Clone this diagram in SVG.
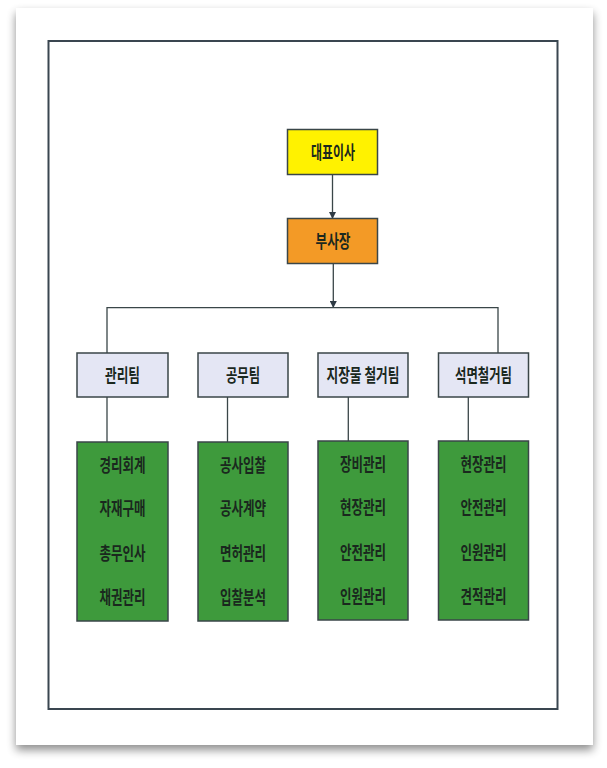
<svg xmlns="http://www.w3.org/2000/svg" width="607" height="768" viewBox="0 0 607 768">
<defs>
<filter id="sh" x="-10%" y="-10%" width="120%" height="120%">
<feGaussianBlur in="SourceAlpha" stdDeviation="5"/>
<feOffset dx="0" dy="5" result="b"/>
<feComponentTransfer><feFuncA type="linear" slope="0.45"/></feComponentTransfer>
<feMerge><feMergeNode/><feMergeNode in="SourceGraphic"/></feMerge>
</filter>
<marker id="arr" viewBox="0 0 10 10" refX="10" refY="5" markerWidth="7" markerHeight="7" markerUnits="userSpaceOnUse" orient="auto">
<path d="M0,0 L10,5 L0,10 z" fill="#2e3a44"/>
</marker>
</defs>
<style>
.box{stroke:#3a4648;stroke-width:1.5}
.top{fill:#fff200}
.vp{fill:#f39a26}
.team{fill:#e4e6f4}
.dept{fill:#3e9a3c}
.t{font-family:"Noto Sans CJK KR","Noto Sans",sans-serif;font-weight:bold;font-size:18px;fill:#1a281e;text-anchor:middle}
.c{stroke:#3a4648;stroke-width:1.3;fill:none}
</style>
<rect width="607" height="768" fill="#ffffff"/>
<rect x="16" y="8" width="577" height="737" fill="#ffffff" filter="url(#sh)"/>
<rect x="48.5" y="41" width="509" height="668" fill="none" stroke="#3a4650" stroke-width="2"/>

<g id="connectors">
<line class="c" x1="332.5" y1="171" x2="332.5" y2="219" marker-end="url(#arr)"/>
<line class="c" x1="333.3" y1="261" x2="333.3" y2="308" marker-end="url(#arr)"/>
<polyline class="c" points="107,353 107,307.7 498,307.7 498,353"/>
<line class="c" x1="107" y1="397" x2="107" y2="442"/>
<line class="c" x1="227.5" y1="397" x2="227.5" y2="442"/>
<line class="c" x1="348.3" y1="397" x2="348.3" y2="441"/>
<line class="c" x1="468.3" y1="397" x2="468.3" y2="441"/>
</g>

<g id="ceo">
<rect class="box top" x="287.5" y="129.5" width="90" height="45"/>
<text class="t" x="333" y="159" textLength="44" lengthAdjust="spacingAndGlyphs">대표이사</text>
</g>
<g id="vice">
<rect class="box vp" x="287.5" y="218.5" width="90" height="45"/>
<text class="t" x="333" y="248" textLength="35" lengthAdjust="spacingAndGlyphs">부사장</text>
</g>

<g id="team1">
<rect class="box team" x="77" y="353" width="91" height="44"/>
<text class="t" x="122.5" y="381.5" textLength="35" lengthAdjust="spacingAndGlyphs">관리팀</text>
</g>
<g id="team2">
<rect class="box team" x="198" y="353" width="90" height="44"/>
<text class="t" x="243" y="381.5" textLength="34" lengthAdjust="spacingAndGlyphs">공무팀</text>
</g>
<g id="team3">
<rect class="box team" x="318" y="353" width="90" height="44"/>
<text class="t" x="363" y="381.5" textLength="73" lengthAdjust="spacingAndGlyphs">지장물 철거팀</text>
</g>
<g id="team4">
<rect class="box team" x="438.5" y="353" width="90" height="44"/>
<text class="t" x="483.5" y="381.5" textLength="57" lengthAdjust="spacingAndGlyphs">석면철거팀</text>
</g>

<g id="dept1">
<rect class="box dept" x="77" y="442" width="91" height="179"/>
<text class="t" x="122.5" y="471.5" textLength="46" lengthAdjust="spacingAndGlyphs">경리회계</text>
<text class="t" x="122.5" y="515" textLength="46" lengthAdjust="spacingAndGlyphs">자재구매</text>
<text class="t" x="122.5" y="559.5" textLength="46" lengthAdjust="spacingAndGlyphs">총무인사</text>
<text class="t" x="122.5" y="603.5" textLength="46" lengthAdjust="spacingAndGlyphs">채권관리</text>
</g>
<g id="dept2">
<rect class="box dept" x="198" y="442" width="90" height="179"/>
<text class="t" x="243" y="471.5" textLength="46" lengthAdjust="spacingAndGlyphs">공사입찰</text>
<text class="t" x="243" y="515" textLength="46" lengthAdjust="spacingAndGlyphs">공사계약</text>
<text class="t" x="243" y="559.5" textLength="46" lengthAdjust="spacingAndGlyphs">면허관리</text>
<text class="t" x="243" y="603.5" textLength="46" lengthAdjust="spacingAndGlyphs">입찰분석</text>
</g>
<g id="dept3">
<rect class="box dept" x="318" y="441" width="90" height="179"/>
<text class="t" x="363" y="470.5" textLength="46" lengthAdjust="spacingAndGlyphs">장비관리</text>
<text class="t" x="363" y="514" textLength="46" lengthAdjust="spacingAndGlyphs">현장관리</text>
<text class="t" x="363" y="558.5" textLength="46" lengthAdjust="spacingAndGlyphs">안전관리</text>
<text class="t" x="363" y="602.5" textLength="46" lengthAdjust="spacingAndGlyphs">인원관리</text>
</g>
<g id="dept4">
<rect class="box dept" x="438.5" y="441" width="90" height="179"/>
<text class="t" x="483.5" y="470.5" textLength="46" lengthAdjust="spacingAndGlyphs">현장관리</text>
<text class="t" x="483.5" y="514" textLength="46" lengthAdjust="spacingAndGlyphs">안전관리</text>
<text class="t" x="483.5" y="558.5" textLength="46" lengthAdjust="spacingAndGlyphs">인원관리</text>
<text class="t" x="483.5" y="602.5" textLength="46" lengthAdjust="spacingAndGlyphs">견적관리</text>
</g>
</svg>
